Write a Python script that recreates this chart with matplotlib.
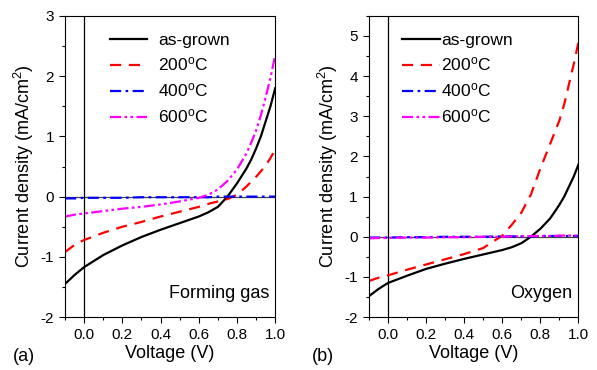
import matplotlib
matplotlib.use("Agg")
import matplotlib.pyplot as plt
from matplotlib.ticker import MultipleLocator

plt.rcParams['font.family'] = ['Liberation Sans', 'DejaVu Sans']
plt.rcParams['mathtext.fontset'] = 'custom'
plt.rcParams['mathtext.rm'] = 'Liberation Sans'
plt.rcParams['mathtext.it'] = 'Liberation Sans:italic'
plt.rcParams['axes.unicode_minus'] = False

# voltage grid (V)
v = [-0.1, -0.05, 0.0, 0.1, 0.2, 0.3, 0.4, 0.5, 0.6, 0.65, 0.7, 0.75, 0.8, 0.85, 0.875, 0.9, 0.925, 0.95, 0.975, 1.0]

# (a) forming gas, current density (mA/cm2)
fg_asgrown = [-1.45, -1.30, -1.17, -0.97, -0.81, -0.67, -0.55, -0.44, -0.33, -0.26, -0.17, 0.0, 0.22, 0.47, 0.62, 0.80, 1.00, 1.25, 1.50, 1.80]
fg_200 = [-0.92, -0.80, -0.72, -0.60, -0.50, -0.42, -0.33, -0.25, -0.17, -0.12, -0.08, -0.04, 0.03, 0.17, 0.25, 0.33, 0.42, 0.52, 0.64, 0.78]
fg_400 = [-0.03, -0.03, -0.02, -0.02, -0.02, -0.01, -0.01, -0.01, -0.01, -0.01, 0.0, 0.0, 0.0, 0.0, 0.0, 0.0, 0.0, 0.0, 0.0, 0.0]
fg_600 = [-0.33, -0.30, -0.28, -0.24, -0.20, -0.17, -0.13, -0.08, -0.02, 0.03, 0.12, 0.26, 0.45, 0.72, 0.90, 1.10, 1.35, 1.65, 1.97, 2.35]

# (b) oxygen
ox_asgrown = [-1.48, -1.30, -1.15, -0.97, -0.80, -0.67, -0.55, -0.44, -0.33, -0.26, -0.16, 0.0, 0.20, 0.45, 0.62, 0.80, 1.00, 1.25, 1.50, 1.80]
ox_200 = [-1.10, -1.02, -0.96, -0.82, -0.69, -0.56, -0.43, -0.28, 0.03, 0.30, 0.60, 1.05, 1.70, 2.30, 2.60, 2.90, 3.30, 3.80, 4.30, 4.85]
ox_400 = [-0.02, -0.02, -0.02, -0.01, -0.01, 0.0, 0.0, 0.0, 0.01, 0.01, 0.01, 0.01, 0.02, 0.02, 0.02, 0.02, 0.02, 0.02, 0.02, 0.02]
ox_600 = [-0.04, -0.03, -0.03, -0.02, -0.02, -0.01, -0.01, 0.0, 0.0, 0.01, 0.01, 0.02, 0.02, 0.02, 0.02, 0.03, 0.03, 0.03, 0.03, 0.03]

labels = ['as-grown', '200$^\\mathrm{o}$C', '400$^\\mathrm{o}$C', '600$^\\mathrm{o}$C']

fig = plt.figure(figsize=(5.97, 3.70), dpi=100)
ax1 = fig.add_axes([0.109, 0.143, 0.352, 0.814])
ax2 = fig.add_axes([0.618, 0.143, 0.351, 0.814])


def gera_painel(ax, series, ylim, nome, leg_x, hlen, tpad):
    ax.axhline(0, color='#444444', lw=0.9, zorder=1)
    ax.axvline(0, color='k', lw=0.9, zorder=1)
    ax.plot(v, series[0], color='k', lw=1.6, ls='-', label=labels[0])
    ax.plot(v, series[1], color='#ff0000', lw=1.6, ls=(0, (5, 3.5)), label=labels[1])
    ax.plot(v, series[2], color='#0000ff', lw=1.6, ls=(0, (5, 2, 1.2, 2)), label=labels[2])
    ax.plot(v, series[3], color='#ff00ff', lw=1.6, ls=(0, (5, 1.5, 1.2, 1.5, 1.2, 1.5)), label=labels[3])
    ax.set_xlim(-0.1, 1.0)
    ax.set_ylim(*ylim)
    ax.xaxis.set_major_locator(MultipleLocator(0.2))
    ax.xaxis.set_minor_locator(MultipleLocator(0.1))
    ax.yaxis.set_major_locator(MultipleLocator(1))
    ax.yaxis.set_minor_locator(MultipleLocator(0.5))
    ax.xaxis.set_major_formatter(plt.FormatStrFormatter('%.1f'))
    ax.tick_params(which='both', direction='out', top=False, right=False, labelsize=11, width=0.8)
    ax.tick_params(which='major', length=4.5)
    ax.tick_params(which='minor', length=2.5)
    for s in ax.spines.values():
        s.set_linewidth(0.8)
    ax.set_xlabel('Voltage (V)', fontsize=13, labelpad=2)
    ax.set_ylabel('Current density (mA/cm$^2$)', fontsize=13, labelpad=3)
    ax.legend(loc='upper left', bbox_to_anchor=(leg_x, 0.945), frameon=False, fontsize=12.5,
              handlelength=hlen, handletextpad=tpad, labelspacing=0.46, borderaxespad=0, borderpad=0)
    ax.text(0.97, 0.05, nome, transform=ax.transAxes, ha='right', va='bottom', fontsize=13)


gera_painel(ax1, [fg_asgrown, fg_200, fg_400, fg_600], (-2, 3), 'Forming gas', 0.214, 2.15, 0.6)
gera_painel(ax2, [ox_asgrown, ox_200, ox_400, ox_600], (-2, 5.5), 'Oxygen', 0.158, 2.2, 0.05)

fig.text(0.022, 0.025, '(a)', fontsize=13)
fig.text(0.522, 0.025, '(b)', fontsize=13)

plt.savefig('out.png', dpi=100)
plt.close()
